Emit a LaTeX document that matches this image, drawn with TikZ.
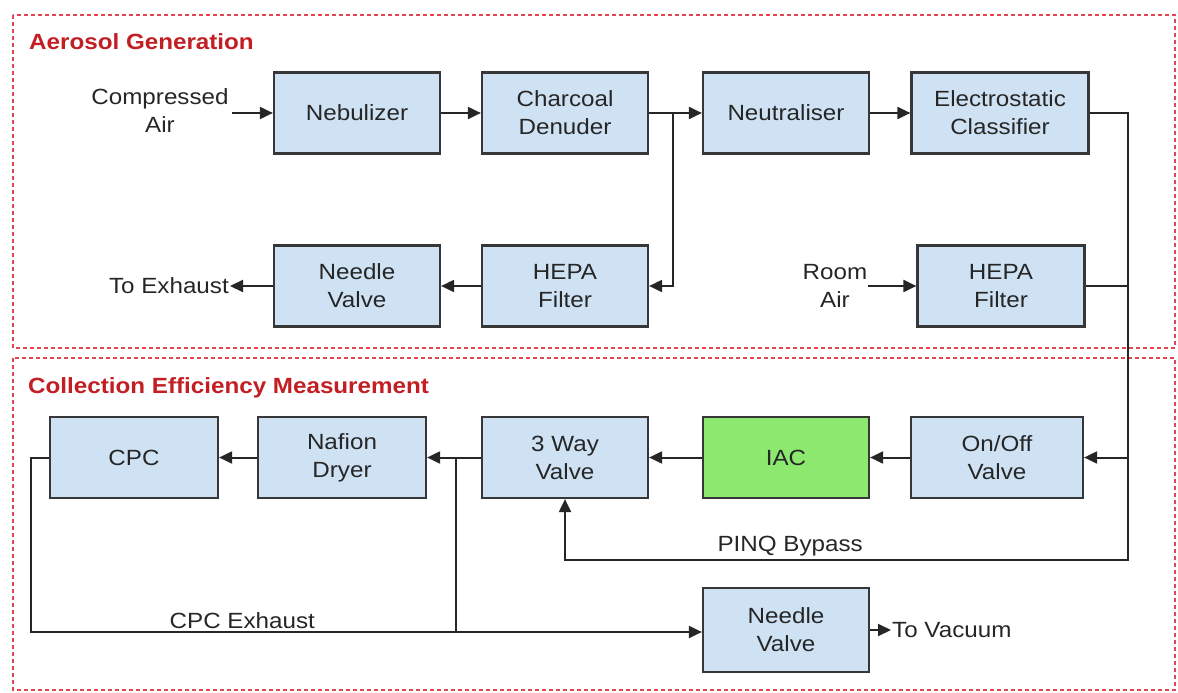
\documentclass[tikz,border=0pt]{standalone}
\usepackage{fontspec}
\setmainfont{Liberation Sans}[FakeStretch=1.1]
\usetikzlibrary{arrows.meta}
\definecolor{boxfill}{RGB}{207,226,243}
\definecolor{boxdraw}{RGB}{55,55,55}
\definecolor{iacfill}{RGB}{140,232,110}
\definecolor{framecol}{RGB}{225,70,80}
\definecolor{ttlcol}{RGB}{195,30,35}
\begin{document}
\begin{tikzpicture}[x=1pt,y=-1pt,
  blk/.style={draw=boxdraw, line width=2.2pt, fill=boxfill, minimum width=166pt, minimum height=81pt, inner sep=0pt, align=center, font=\fontsize{22}{28}\selectfont, text=black!85},
  lbl/.style={align=center, font=\fontsize{22}{28}\selectfont, text=black!85, inner sep=1pt},
  conn/.style={draw=black!85, line width=2pt},
  arr/.style={conn, -{Triangle[length=13pt,width=12pt]}},
  frm/.style={draw=framecol, line width=1.8pt, dash pattern=on 4pt off 3pt},
  ttlstyle/.style={font=\bfseries\fontsize{22}{26}\selectfont, text=ttlcol, inner sep=0pt}
]
\useasboundingbox (0,0) rectangle (1178,693);

% frames
\draw[frm] (13,15) rectangle (1175,348);
\draw[frm] (13,358) rectangle (1175,690);
\node[ttlstyle, anchor=base west] (t1) at (29,50) {Aerosol Generation};
\node[ttlstyle, anchor=base west] (t2) at (28,393) {Collection Efficiency Measurement};

% boxes
\node[blk] (neb) at (357,113) {Nebulizer};
\node[blk] (char) at (565,113) {Charcoal\\Denuder};
\node[blk] (neut) at (786,113) {Neutraliser};
\node[blk, minimum width=177pt] (elec) at (1000,113) {Electrostatic\\Classifier};
\node[blk] (need1) at (357,286) {Needle\\Valve};
\node[blk] (hepa1) at (565,286) {HEPA\\Filter};
\node[blk, minimum width=167pt] (hepa2) at (1001,286) {HEPA\\Filter};
\node[blk, minimum width=168pt] (cpc) at (134,457.5) {CPC};
\node[blk, minimum width=168pt] (naf) at (342,457.5) {Nafion\\Dryer};
\node[blk] (way) at (565,457.5) {3 Way\\Valve};
\node[blk, fill=iacfill] (iac) at (786,457.5) {IAC};
\node[blk, minimum width=172pt] (onoff) at (997,457.5) {On/Off\\Valve};
\node[blk, minimum height=84pt] (need2) at (786,630) {Needle\\Valve};

% labels
\node[lbl] (comp) at (160,111) {Compressed\\Air};
\node[lbl, anchor=east] (exh) at (230,286) {To Exhaust};
\node[lbl] (room) at (835,286) {Room\\Air};
\node[lbl, anchor=west] (vac) at (891,630) {To Vacuum};

% coordinates
\coordinate (j1) at (673,113);
\coordinate (rR) at (1128,113);
\coordinate (bpR) at (1128,560);
\coordinate (j2) at (456,457.5);
\coordinate (j2b) at (456,632);
\coordinate (cL) at (31,457.5);
\coordinate (cLb) at (31,632);

% connectors
\draw[arr] (comp.east |- neb.west) ++(2,0) -- (neb.west);
\draw[arr] (neb) -- (char);
\draw[conn] (char.east) -- (j1);
\draw[arr] (j1) -- (neut.west);
\draw[arr] (j1) |- (hepa1.east);
\draw[arr] (hepa1) -- (need1);
\draw[arr] (need1.west) -- (exh.east);
\draw[arr] (neut) -- (elec);
\draw[arr] (room.east) -- (hepa2.west);
\draw[arr] (elec.east) -- (rR) -- (bpR) -| (way.south)
  node[pos=0.3, above=2pt, lbl] (pinq) {PINQ Bypass};
\draw[conn] (hepa2.east) -- (hepa2.east -| bpR);
\draw[arr] (onoff.east -| bpR) -- (onoff.east);
\draw[arr] (onoff) -- (iac);
\draw[arr] (iac) -- (way);
\draw[conn] (way.west) -- (j2);
\draw[arr] (j2) -- (naf.east);
\draw[arr] (naf) -- (cpc);
\draw[conn] (j2) -- (j2b);
\draw[arr] (cpc.west) -- (cL) -- (cLb) -- (cLb -| need2.west)
  node[pos=0.315, above=1pt, lbl] (cpcex) {CPC Exhaust};
\draw[arr] (need2.east) -- (vac.west);
\end{tikzpicture}
\end{document}
